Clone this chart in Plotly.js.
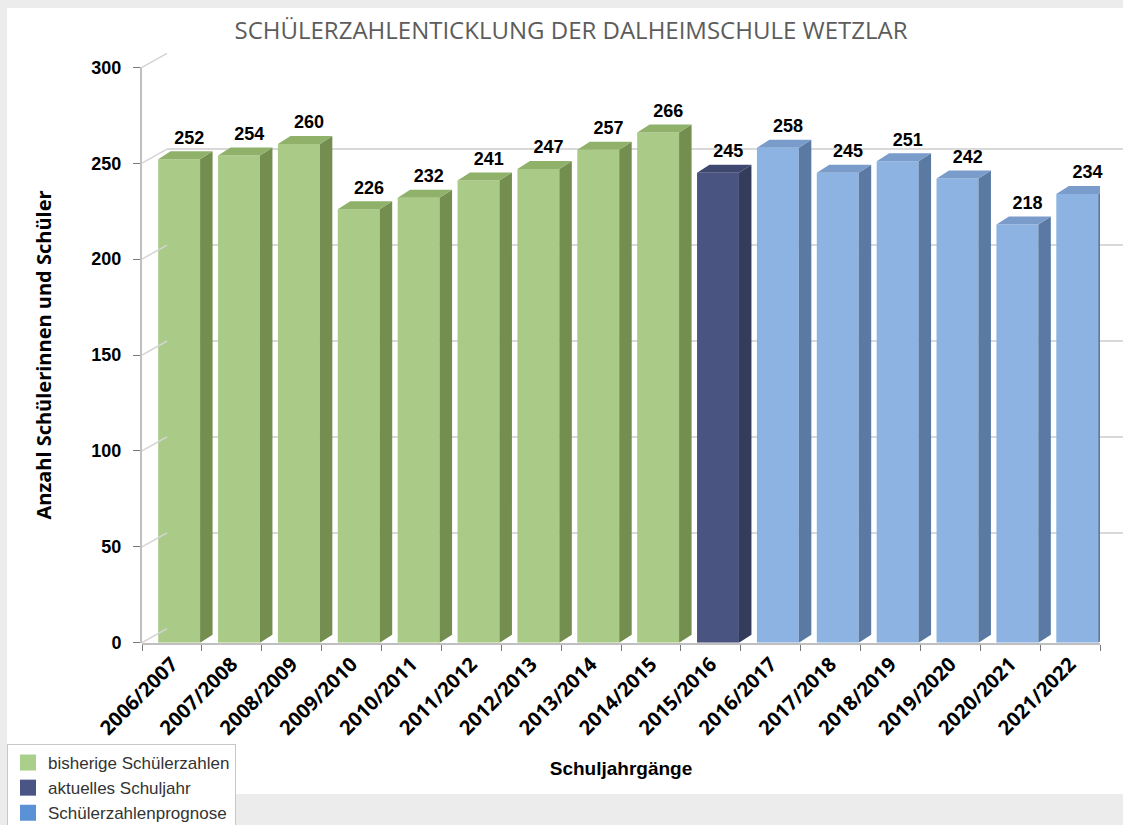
<!DOCTYPE html>
<html>
<head>
<meta charset="utf-8">
<script src="https://cdn.plot.ly/plotly-3.0.1.min.js"></script>
<style>html,body{margin:0;padding:0;background:#ececec;}#chart{width:1123px;height:825px;}</style>
</head>
<body>
<div id="chart"></div>
<script>
// ---- data ----
const years = ["2006/2007","2007/2008","2008/2009","2009/2010","2010/2011","2011/2012","2012/2013","2013/2014","2014/2015","2015/2016","2016/2017","2017/2018","2018/2019","2019/2020","2020/2021","2021/2022"];
const students = [252,254,260,226,232,241,247,257,266,245,258,245,251,242,218,234];
const groupOf = [0,0,0,0,0,0,0,0,0,1,2,2,2,2,2,2]; // 0 bisherige, 1 aktuell, 2 Prognose
const groupNames = ["bisherige Schülerzahlen","aktuelles Schuljahr","Schülerzahlenprognose"];
const yTicks = [0,50,100,150,200,250,300];

// ---- style ----
const frontCol = ["#a9cb87","#4a5480","#8db3e2"];
const sideCol  = ["#738e4f","#343c5c","#5a7aa3"];
const topCol   = ["#8fb16a","#3e476f","#7a9ccb"];
const legendCol= ["#a9cf8a","#4a5585","#5b92d6"];

const W = 1123, H = 825;
const px = v => v / W, py = v => 1 - v / H;
const xL = 142, xR = 1100, y0 = 642.7, y300 = 67.3;
const pxPerX = (xR - xL) / years.length;
const pxPerY = (y0 - y300) / 300;
const BAR_OFF = 0.12, BAR_W = 0.7;
const DX = 12.5 / pxPerX, DY = 8 / pxPerY;       // bar depth
const WDX = 25 / pxPerX, WDY = 14 / pxPerY;      // back wall offset
const yTop2 = 308;

const traces = [];
// legend dummies on wall subplot
for (let g = 0; g < 3; g++) {
  traces.push({type:'scatter', mode:'markers', x:[null], y:[null], xaxis:'x', yaxis:'y',
    name: groupNames[g], marker:{symbol:'square', size:20, color:legendCol[g]}, hoverinfo:'skip'});
}
// wall diagonals at left
const dgx = [], dgy = [];
yTicks.forEach(v => { dgx.push(-0.5, -0.5 + WDX, null); dgy.push(v, v + WDY, null); });
traces.push({type:'scatter', mode:'lines', x:dgx, y:dgy, xaxis:'x2', yaxis:'y2',
  line:{color:'#d4d4d4', width:1.5}, showlegend:false, hoverinfo:'skip'});

// front faces
for (let g = 0; g < 3; g++) {
  const xs = [], ys = [];
  students.forEach((v,i) => { if (groupOf[i] === g) { xs.push(i + BAR_OFF); ys.push(v); } });
  traces.push({type:'bar', x:xs, y:ys, width:BAR_W, xaxis:'x2', yaxis:'y2',
    marker:{color:frontCol[g], line:{width:0}}, showlegend:false, hoverinfo:'y'});
}
// side & top faces
for (let g = 0; g < 3; g++) {
  const sx = [], sy = [], tx = [], ty = [];
  students.forEach((v,i) => {
    if (groupOf[i] !== g) return;
    const l = i + BAR_OFF - BAR_W/2, r = i + BAR_OFF + BAR_W/2;
    sx.push(r, r, r + DX, r + DX, r, null); sy.push(0, v, v + DY, DY, 0, null);
    tx.push(l, r, r + DX, l + DX, l, null); ty.push(v, v, v + DY, v + DY, v, null);
  });
  traces.push({type:'scatter', mode:'lines', x:sx, y:sy, fill:'toself', fillcolor:sideCol[g],
    line:{width:0, color:sideCol[g]}, xaxis:'x2', yaxis:'y2', showlegend:false, hoverinfo:'skip'});
  traces.push({type:'scatter', mode:'lines', x:tx, y:ty, fill:'toself', fillcolor:topCol[g],
    line:{width:0, color:topCol[g]}, xaxis:'x2', yaxis:'y2', showlegend:false, hoverinfo:'skip'});
}
// value labels
traces.push({type:'scatter', mode:'text', x:students.map((v,i)=>i + 0.29), y:students.map(v=>v + 10.5),
  text:students.map(String), textposition:'middle center', cliponaxis:false,
  textfont:{family:'Liberation Sans, Arial, sans-serif', size:18, color:'#000', weight:'bold'},
  xaxis:'x2', yaxis:'y3', showlegend:false, hoverinfo:'skip'});

const layout = {
  width: W, height: H,
  margin:{l:0,r:0,t:0,b:0, autoexpand:false},
  paper_bgcolor:'#ececec', plot_bgcolor:'rgba(0,0,0,0)',
  showlegend:true, barmode:'overlay',
  title:{text:'SCHÜLERZAHLENTICKLUNG DER DALHEIMSCHULE WETZLAR', x:px(571), xanchor:'center',
    y:py(31), yanchor:'middle', font:{family:'Open Sans, sans-serif', size:24, color:'#5c5c5c'}},
  shapes:[{type:'rect', xref:'paper', yref:'paper', x0:px(7), x1:1, y0:py(794), y1:py(8),
    fillcolor:'#ffffff', line:{width:0}, layer:'below'}],
  // back wall
  xaxis:{domain:[px(xL + 25), 1], range:[0,1], anchor:'y', showgrid:false, zeroline:false,
    showline:false, showticklabels:false, ticks:'', fixedrange:true},
  yaxis:{domain:[py(y0 - 14), py(y300 - 14)], range:[0,300], anchor:'x', tickvals:yTicks,
    showgrid:true, gridcolor:'#d9d9d9', gridwidth:1.5, zeroline:false, showline:false,
    showticklabels:false, ticks:'', fixedrange:true},
  // bars
  xaxis2:{domain:[px(xL), px(xR)], range:[-0.5, years.length - 0.5], anchor:'y2',
    tickvals:years.map((_,i)=>i), ticktext:years, tickangle:-45, ticks:'',
    minor:{tickvals:years.map((_,i)=>i - 0.5).concat([years.length - 0.5]), ticks:'outside', ticklen:6, tickcolor:'#777', tickwidth:1, showgrid:false},
    showgrid:false, zeroline:false, showline:true, linecolor:'#bfbfbf', linewidth:2,
    tickfont:{family:'Open Sans, sans-serif', size:20, color:'#000', weight:'bold'},
    title:{text:'Schuljahrgänge', standoff:22, font:{family:'Liberation Sans, Arial, sans-serif', size:19, color:'#000', weight:'bold'}},
    fixedrange:true},
  yaxis2:{domain:[py(y0), py(y0 - yTop2 * pxPerY)], range:[0, yTop2], anchor:'x2',
    showgrid:false, zeroline:false, showline:false, showticklabels:false, ticks:'', fixedrange:true},
  yaxis3:{domain:[py(y0), py(y300)], range:[0,300], anchor:'x2', tickvals:yTicks,
    ticks:'outside', ticklen:7, tickcolor:'#777', showline:true, linecolor:'#bfbfbf', linewidth:2,
    showgrid:false, zeroline:false, ticklabelstandoff:8,
    tickfont:{family:'Liberation Sans, Arial, sans-serif', size:18, color:'#000', weight:'bold'},
    title:{text:'Anzahl Schülerinnen und Schüler', standoff:34, font:{family:'Open Sans, sans-serif', size:20, color:'#000', weight:'bold'}},
    fixedrange:true},
  legend:{x:px(7), y:py(744), xanchor:'left', yanchor:'top', bgcolor:'#ffffff',
    bordercolor:'#c8c8c8', borderwidth:1, tracegroupgap:0,
    font:{family:'Liberation Sans, Arial, sans-serif', size:17, color:'#333'}}
};

Plotly.newPlot('chart', traces, layout, {displayModeBar:false, staticPlot:true});
</script>
</body>
</html>
